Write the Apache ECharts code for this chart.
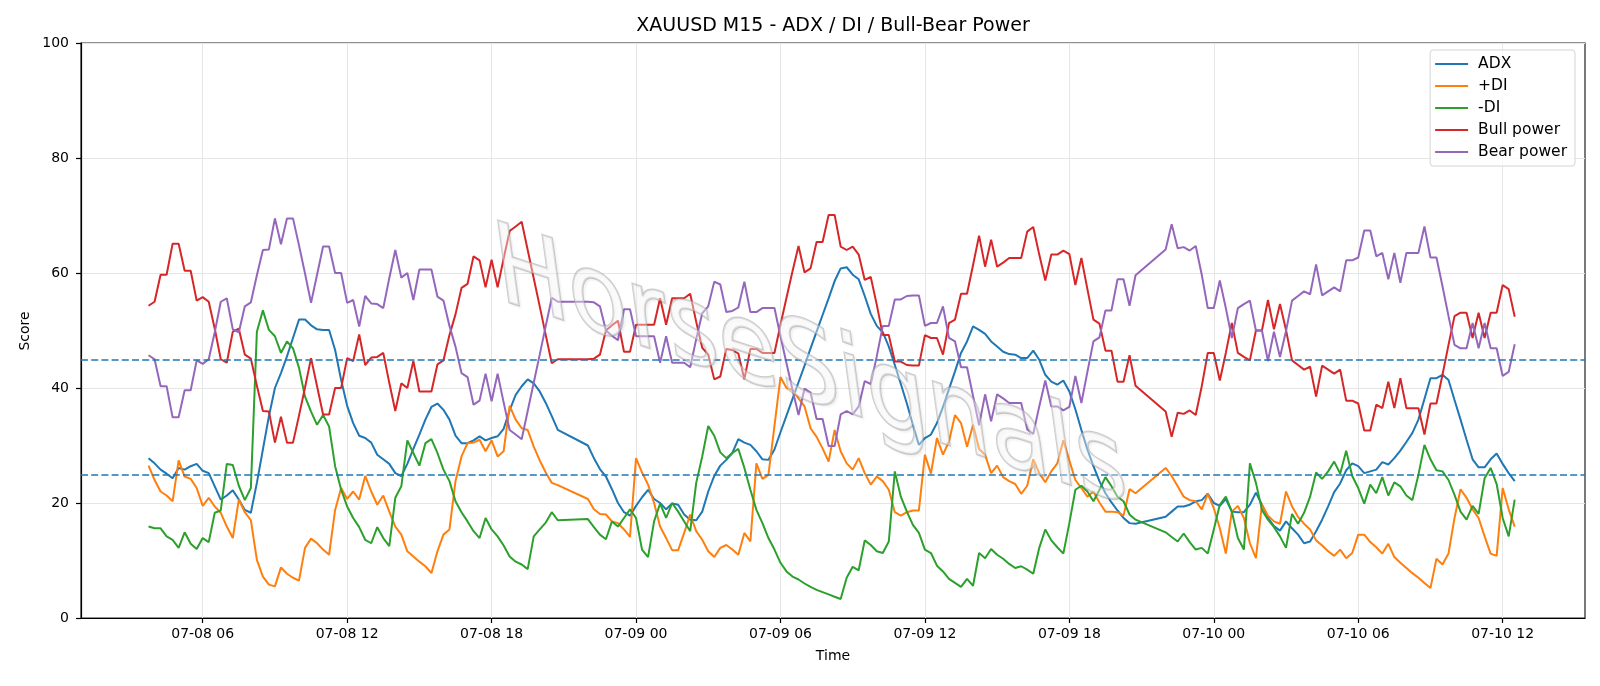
<!DOCTYPE html>
<html>
<head>
<meta charset="utf-8">
<script src="https://cdn.jsdelivr.net/npm/echarts@6/dist/echarts.min.js"></script>
<style>
  html, body { margin: 0; padding: 0; background: #fff; }
  #chart { width: 1600px; height: 686px; }
</style>
</head>
<body>
<div id="chart"></div>
<script>
// ============================================================================
// Data (M15 bars, hours counted from 07-08 00:00; the market breaks 21:00-22:00)
// ============================================================================

const sessionStartHours = [3.75, 22, 46]
const sessionBarCounts = [69, 92, 59]
const tickHours = [6, 12, 18, 24, 30, 36, 42, 48, 54, 60]

const adx = [
  27.8, 26.9, 25.8, 25.1, 24.3, 26.1, 25.8, 26.4, 26.8, 25.6, 25.2, 22.9, 20.6, 21.3, 22.2, 20.6, 18.8, 18.3, 23.5, 29.3, 35.1, 40.0, 42.6, 45.5, 48.7, 51.9, 51.9, 50.9, 50.2,
  50.1, 50.1, 46.6, 41.4, 36.9, 33.9, 31.7, 31.3, 30.5, 28.4, 27.6, 26.8, 25.2, 24.7, 26.8, 29.4, 31.9, 34.5, 36.7, 37.3, 36.2, 34.5, 31.7, 30.4, 30.4, 30.9, 31.6, 30.9,
  31.3, 31.6, 32.9, 36.1, 38.8, 40.3, 41.5, 40.8, 39.4, 37.4, 35.1, 32.7,
  30.0, 27.8, 25.9, 24.6, 22.4, 20.0, 18.4, 17.8, 19.5, 21.0, 22.3, 20.7, 20.0,
  18.9, 19.9, 19.7, 18.0, 17.1, 17.0, 18.5, 22.0, 24.7, 26.5, 27.5, 28.7, 31.1, 30.5, 30.1, 29.0, 27.6, 27.5, 29.3, 32.3, 35.2, 38.1, 41.0, 43.9, 46.9, 49.8, 52.7, 55.6,
  58.6, 60.8, 61.0, 59.7, 58.9, 56.0, 52.9, 50.8, 49.7, 47.2, 44.0, 40.7, 37.3, 33.6, 30.1, 31.3, 31.9, 33.9, 36.7, 39.8, 42.9, 46.1, 48.1, 50.7, 50.1, 49.4, 48.1, 47.2,
  46.3, 45.9, 45.8, 45.2, 45.2, 46.5, 44.9, 42.3, 41.1, 40.6, 41.3, 39.4, 36.3, 32.7, 29.3, 26.4, 23.8, 21.7, 20.1, 18.7, 17.4, 16.5, 16.4,
  17.6, 18.5, 19.4, 19.4, 19.7, 20.3, 20.5, 21.6, 20.0, 19.5, 20.7, 18.5, 18.4, 18.4, 19.7, 21.8, 19.7, 17.4, 16.0, 15.2, 16.8, 15.6, 14.5, 13.0, 13.3, 15.1, 17.1, 19.4, 21.9, 23.4,
  25.7, 26.9, 26.4, 25.2, 25.5, 25.8, 27.1, 26.7, 27.8, 29.1, 30.6, 32.2, 34.5, 38.1, 41.7, 41.7, 42.3, 41.4, 37.9, 34.5, 31.0, 27.6, 26.2, 26.2, 27.6, 28.6, 26.8, 25.2, 23.8
]

const plusDi = [
  26.5, 24.0, 22.0, 21.3, 20.3, 27.4, 24.6, 24.2, 22.6, 19.5, 20.9, 19.4, 18.3, 15.9, 13.9, 20.6, 18.4, 17.0, 10.1, 7.2, 5.8, 5.5, 8.8, 7.7, 7.0, 6.5, 12.2, 13.8, 13.0,
  11.9, 11.0, 18.8, 22.6, 20.7, 22.0, 20.6, 24.7, 22.0, 19.7, 21.3, 18.5, 15.9, 14.5, 11.6, 10.7, 9.8, 9.0, 7.8, 11.6, 14.5, 15.4, 23.8, 28.1, 30.4, 30.5, 31.0, 29.0,
  30.9, 28.1, 29.0, 36.9, 34.5, 33.0, 32.7, 29.8, 27.4, 25.3, 23.5, 23.1,
  20.7, 18.9, 18.1, 18.0, 16.8, 16.5, 15.4, 14.1, 27.8, 25.3, 23.2, 20.0, 15.9,
  13.9, 11.8, 11.8, 14.8, 18.0, 15.1, 13.6, 11.6, 10.6, 12.2, 12.7, 11.9, 11.0, 14.8, 13.3, 26.9, 24.2, 24.9, 33.4, 41.9, 40.0, 39.7, 38.2, 36.8, 33.0, 31.5, 29.5, 27.2,
  32.7, 29.0, 26.9, 25.8, 27.8, 25.2, 23.2, 24.6, 23.8, 22.3, 18.4, 17.8, 18.4, 18.7, 18.7, 28.4, 25.1, 31.3, 28.4, 30.7, 35.3, 33.9, 29.8, 33.6, 29.4, 28.4, 25.2, 26.5,
  24.5, 23.8, 23.3, 21.6, 23.0, 27.6, 25.2, 23.6, 25.5, 26.9, 30.9, 27.4, 24.0, 22.6, 21.1, 22.0, 20.1, 18.5, 18.5, 18.4, 17.8, 22.4, 21.7,
  26.1, 24.7, 22.9, 21.1, 20.5, 20.3, 18.9, 21.6, 19.1, 15.6, 11.2, 18.5, 19.5, 17.4, 13.0, 10.4, 19.7, 17.8, 16.8, 16.4, 22.0, 19.4, 17.6, 16.4, 15.4, 13.5, 12.6, 11.6, 10.8, 11.9,
  10.4, 11.3, 14.5, 14.5, 13.2, 12.3, 11.2, 12.9, 10.6, 9.6, 8.7, 7.8, 7.0, 6.1, 5.2, 10.3, 9.3, 11.2, 17.4, 22.4, 20.9, 18.9, 17.4, 14.2, 11.2, 10.8, 22.6, 18.9, 15.9
]

const minusDi = [
  15.9, 15.6, 15.6, 14.2, 13.6, 12.2, 14.9, 12.9, 12.0, 13.9, 13.2, 18.3, 18.7, 26.8, 26.6, 23.0, 20.5, 22.6, 49.8, 53.5, 50.1, 49.0, 46.1, 48.1, 46.9, 43.5, 38.5, 35.9, 33.6,
  35.3, 33.3, 26.4, 22.3, 19.4, 17.4, 15.8, 13.6, 13.0, 15.8, 13.9, 12.5, 20.9, 22.9, 30.9, 28.7, 26.5, 30.4, 31.1, 28.7, 25.8, 23.8, 20.3, 18.4, 16.8, 15.1, 13.9, 17.4,
  15.4, 14.2, 12.6, 10.7, 9.8, 9.3, 8.5, 14.2, 15.4, 16.6, 18.4, 17.0,
  17.2, 15.8, 14.5, 13.7, 16.8, 15.9, 17.4, 18.9, 17.4, 11.9, 10.6, 16.8, 19.9,
  17.4, 20.0, 18.5, 16.8, 15.1, 23.5, 28.1, 33.4, 31.7, 28.8, 27.8, 28.7, 29.4, 26.1, 22.3, 18.8, 16.5, 13.9, 11.9, 9.6, 8.1, 7.2, 6.7, 6.0, 5.4, 4.9, 4.5, 4.1,
  3.7, 3.3, 7.0, 8.9, 8.3, 13.5, 12.7, 11.6, 11.3, 13.3, 25.5, 21.1, 18.5, 16.2, 14.8, 11.9, 11.3, 9.1, 8.1, 6.8, 6.1, 5.4, 6.8, 5.6, 11.3, 10.4, 12.0, 11.0,
  10.3, 9.4, 8.7, 9.0, 8.4, 7.7, 12.2, 15.4, 13.5, 12.3, 11.2, 16.5, 22.3, 23.0, 22.0, 20.3, 22.3, 24.5, 22.9, 21.1, 20.3, 18.0, 17.1,
  14.9, 14.1, 13.3, 14.7, 13.2, 11.9, 12.2, 11.2, 15.4, 19.7, 21.1, 18.5, 13.9, 11.9, 26.9, 23.5, 18.8, 17.1, 15.8, 14.2, 12.2, 18.1, 16.4, 18.3, 21.1, 25.3, 24.2, 25.5, 27.2, 25.1,
  29.1, 24.7, 22.6, 19.9, 23.2, 21.7, 24.5, 21.3, 23.6, 22.9, 21.3, 20.5, 24.9, 30.1, 27.6, 25.7, 25.5, 24.0, 21.4, 18.5, 17.1, 19.5, 18.1, 24.3, 26.1, 23.3, 17.4, 14.2, 20.6
]

const bullPower = [
  54.3, 55.0, 59.7, 59.7, 65.1, 65.1, 60.4, 60.4, 55.2, 55.8, 55.0, 50.3, 45.0, 44.4, 49.8, 50.3, 45.8, 45.1, 40.4, 36.0, 35.9, 30.5, 35.0, 30.5, 30.5, 35.2, 40.1, 45.2, 40.3,
  35.4, 35.4, 40.0, 40.0, 45.2, 44.7, 49.3, 44.0, 45.3, 45.4, 46.1, 40.9, 36.0, 40.8, 40.0, 44.7, 39.4, 39.4, 39.4, 44.1, 44.8, 49.2, 52.8, 57.4, 58.1, 62.9, 62.2, 57.5,
  62.3, 57.5, 62.5, 67.3, 68.1, 68.9, 64.0, 59.1, 54.2, 49.2, 44.3, 45.0,
  45.0, 45.1, 45.8, 50.0, 50.9, 51.7, 46.3, 46.3, 51.0, 51.0, 51.0, 51.0, 55.6,
  51.0, 55.6, 55.6, 55.6, 56.4, 51.5, 47.0, 45.8, 41.5, 42.0, 46.8, 46.6, 46.0, 41.5, 46.8, 46.8, 46.1, 46.1, 46.1, 51.0, 55.7, 60.3, 64.7, 60.1, 60.8, 65.4, 65.4, 70.1,
  70.1, 64.6, 64.0, 64.6, 63.2, 58.8, 59.3, 54.5, 49.2, 49.2, 44.6, 44.6, 44.0, 43.9, 43.9, 49.2, 48.7, 48.7, 45.8, 51.3, 51.9, 56.4, 56.4, 61.4, 66.5, 61.1, 65.8, 61.1,
  61.8, 62.6, 62.6, 62.6, 67.2, 68.0, 63.2, 58.7, 63.2, 63.2, 63.9, 63.3, 57.9, 62.6, 57.2, 51.9, 51.2, 46.5, 46.5, 41.1, 41.1, 45.7, 40.4,
  35.9, 31.5, 35.7, 35.5, 36.1, 35.3, 40.3, 46.1, 46.1, 41.3, 46.1, 51.3, 46.1, 45.4, 44.8, 50.0, 50.0, 55.3, 50.2, 54.6, 50.1, 44.8, 44.0, 43.2, 43.7, 38.5, 43.9, 43.2, 42.5, 43.2,
  37.8, 37.8, 37.3, 32.6, 32.6, 37.1, 36.5, 41.1, 36.5, 41.7, 36.5, 36.5, 36.5, 31.9, 37.3, 37.3, 42.3, 47.5, 52.5, 53.1, 53.1, 48.7, 53.1, 48.7, 53.1, 53.1, 57.9, 57.2, 52.4
]

const bearPower = [
  45.7, 45.0, 40.3, 40.3, 34.9, 34.9, 39.6, 39.6, 44.8, 44.2, 45.0, 49.7, 55.0, 55.6, 50.2, 49.7, 54.2, 54.9, 59.6, 64.0, 64.1, 69.5, 65.0, 69.5, 69.5, 64.8, 59.9, 54.8, 59.7,
  64.6, 64.6, 60.0, 60.0, 54.8, 55.3, 50.7, 56.0, 54.7, 54.6, 53.9, 59.1, 64.0, 59.2, 60.0, 55.3, 60.6, 60.6, 60.6, 55.9, 55.2, 50.8, 47.2, 42.6, 41.9, 37.1, 37.8, 42.5,
  37.7, 42.5, 37.5, 32.7, 31.9, 31.1, 36.0, 40.9, 45.8, 50.8, 55.7, 55.0,
  55.0, 54.9, 54.2, 50.0, 49.1, 48.3, 53.7, 53.7, 49.0, 49.0, 49.0, 49.0, 44.4,
  49.0, 44.4, 44.4, 44.4, 43.6, 48.5, 53.0, 54.2, 58.5, 58.0, 53.2, 53.4, 54.0, 58.5, 53.2, 53.2, 53.9, 53.9, 53.9, 49.0, 44.3, 39.7, 35.3, 39.9, 39.2, 34.6, 34.6, 29.9,
  29.9, 35.4, 36.0, 35.4, 36.8, 41.2, 40.7, 45.5, 50.8, 50.8, 55.4, 55.4, 56.0, 56.1, 56.1, 50.8, 51.3, 51.3, 54.2, 48.7, 48.1, 43.6, 43.6, 38.6, 33.5, 38.9, 34.2, 38.9,
  38.2, 37.4, 37.4, 37.4, 32.8, 32.0, 36.8, 41.3, 36.8, 36.8, 36.1, 36.7, 42.1, 37.4, 42.8, 48.1, 48.8, 53.5, 53.5, 58.9, 58.9, 54.3, 59.6,
  64.1, 68.5, 64.3, 64.5, 63.9, 64.7, 59.7, 53.9, 53.9, 58.7, 53.9, 48.7, 53.9, 54.6, 55.2, 50.0, 50.0, 44.7, 49.8, 45.4, 49.9, 55.2, 56.0, 56.8, 56.3, 61.5, 56.1, 56.8, 57.5, 56.8,
  62.2, 62.2, 62.7, 67.4, 67.4, 62.9, 63.5, 58.9, 63.5, 58.3, 63.5, 63.5, 63.5, 68.1, 62.7, 62.7, 57.7, 52.5, 47.5, 46.9, 46.9, 51.3, 46.9, 51.3, 46.9, 46.9, 42.1, 42.8, 47.6
]

const thresholds = [25, 45]

// ============================================================================
// Helpers
// ============================================================================

const FONT = '"DejaVu Sans", "Liberation Sans", sans-serif'

function buildBarHours() {
    const hours = []
    sessionStartHours.forEach((start, s) => {
        for (let i = 0; i < sessionBarCounts[s]; i++) {
            hours.push(start + i * 0.25)
        }
    })
    return hours
}

function formatTick(h) {
    const day = 8 + Math.floor(h / 24)
    const hour = Math.round(h % 24)
    return '07-' + String(day).padStart(2, '0') + ' ' + String(hour).padStart(2, '0')
}

function lineSeries(name, values, color, hours) {
    return {
        name: name,
        type: 'line',
        showSymbol: false,
        symbol: 'none',
        silent: true,
        lineStyle: {width: 2, color: color},
        itemStyle: {color: color},
        data: values.map((v, i) => [hours[i], v]),
    }
}

// ============================================================================
// Chart
// ============================================================================

function main() {
    const hours = buildBarHours()
    const chart = echarts.init(document.getElementById('chart'))

    const series = [
        lineSeries('ADX', adx, '#1f77b4', hours),
        lineSeries('+DI', plusDi, '#ff7f0e', hours),
        lineSeries('-DI', minusDi, '#2ca02c', hours),
        lineSeries('Bull power', bullPower, '#d62728', hours),
        lineSeries('Bear power', bearPower, '#9467bd', hours),
    ]
    series[4].markLine = {
        silent: true,
        symbol: 'none',
        label: {show: false},
        lineStyle: {color: '#1f77b4', width: 1.6, type: [7, 3.2]},
        data: thresholds.map(t => ({yAxis: t})),
    }

    const option = {
        animation: false,
        backgroundColor: '#fff',
        textStyle: {fontFamily: FONT},
        grid: {
            left: 81, right: 15, top: 43, bottom: 68,
            show: true, borderColor: '#222', borderWidth: 1.2,
            containLabel: false,
        },
        legend: {
            right: 25, top: 50,
            orient: 'vertical',
            icon: 'rect',
            itemWidth: 33, itemHeight: 2,
            itemGap: 6,
            padding: [6, 8, 6, 5],
            borderColor: '#d4d4d4', borderWidth: 1, borderRadius: 3,
            backgroundColor: 'rgba(255,255,255,0.8)',
            textStyle: {fontFamily: FONT, fontSize: 15.5, color: '#000', lineHeight: 16, padding: [0, 0, 0, 5]},
            data: ['ADX', '+DI', '-DI', 'Bull power', 'Bear power'],
        },
        xAxis: {
            type: 'value',
            min: 0.944, max: 63.42,
            axisLine: {show: true, lineStyle: {color: '#000', width: 1.2}},
            axisTick: {show: true, length: 5, customValues: tickHours, lineStyle: {color: '#000', width: 1.2}},
            axisLabel: {customValues: tickHours, formatter: formatTick, color: '#000', fontSize: 14, margin: 9, fontFamily: FONT},
            splitLine: {show: true, lineStyle: {color: '#e6e6e6', width: 1}},
        },
        yAxis: {
            type: 'value',
            min: 0, max: 100, interval: 20,
            axisLine: {show: true, lineStyle: {color: '#000', width: 1.2}},
            axisTick: {show: true, length: 5, lineStyle: {color: '#000', width: 1.2}},
            axisLabel: {color: '#000', fontSize: 14, margin: 12, fontFamily: FONT},
            splitLine: {show: true, lineStyle: {color: '#e6e6e6', width: 1}},
        },
        graphic: [
            {type: 'text', x: 833, y: 26, style: {text: 'XAUUSD M15 - ADX / DI / Bull-Bear Power', font: '19px ' + FONT, fill: '#000', align: 'center', verticalAlign: 'middle'}},
            {type: 'text', x: 833, y: 656, style: {text: 'Time', font: '14px ' + FONT, fill: '#000', align: 'center', verticalAlign: 'middle'}},
            {type: 'text', x: 25, y: 331, rotation: Math.PI / 2, style: {text: 'Score', font: '14px ' + FONT, fill: '#000', align: 'center', verticalAlign: 'middle'}},
            {
                type: 'text', x: 488, y: 214, rotation: -18 * Math.PI / 180, skewX: 0.45, z: 100,
                style: {
                    text: 'HorseSignals', font: '102px ' + FONT,
                    fill: 'rgba(255,255,255,0.4)', stroke: 'rgba(160,160,160,0.55)', lineWidth: 2,
                    textShadowColor: 'rgba(0,0,0,0.08)', textShadowBlur: 2, textShadowOffsetX: 2, textShadowOffsetY: 2,
                    align: 'left', verticalAlign: 'alphabetic',
                },
            },
        ],
        series: series,
    }
    chart.setOption(option)
}

main()
</script>
</body>
</html>
